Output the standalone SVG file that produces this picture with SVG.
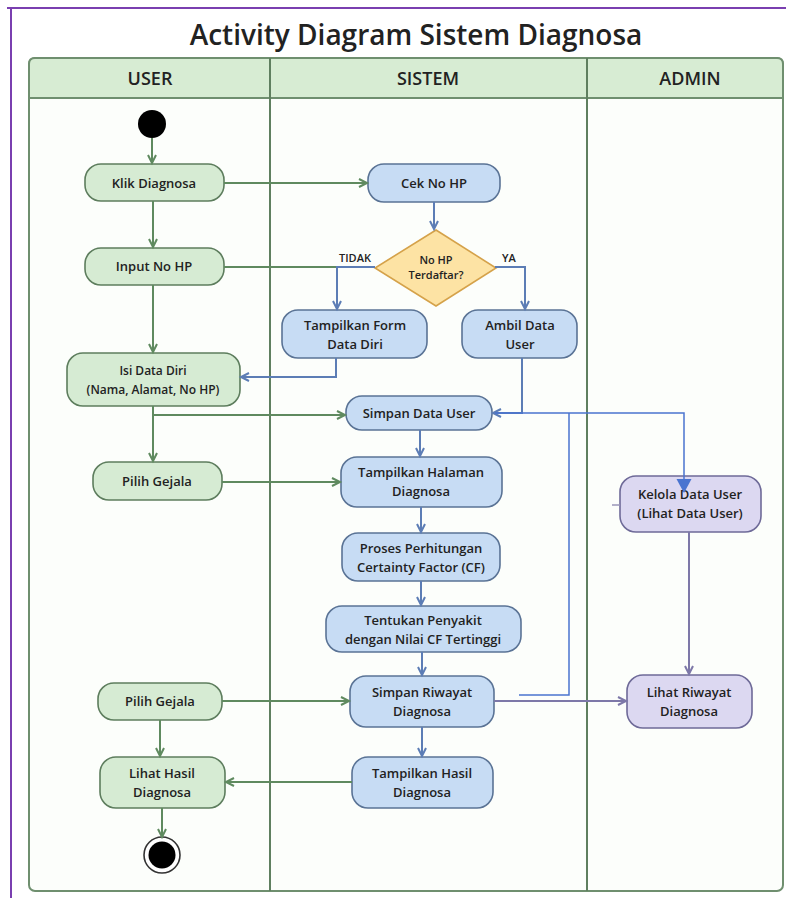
<svg xmlns="http://www.w3.org/2000/svg" width="786" height="898" viewBox="0 0 786 898">
<style>
  text { font-family: "Open Sans", "Noto Sans", "Liberation Sans", sans-serif; fill: #222; font-weight: 600; text-anchor: middle; }
  .t { font-size: 13px; }
  .hd { font-size: 18px; }
  .lbl { font-size: 11px; }
  .g { fill: #d6ebd3; stroke: #5d7d5d; stroke-width: 1.6; }
  .b { fill: #c7dcf4; stroke: #5a7395; stroke-width: 1.6; }
  .p { fill: #dcd8f1; stroke: #6e6a98; stroke-width: 1.6; }
  .eg { fill: none; stroke: #5f8a5f; stroke-width: 2; }
  .eb { fill: none; stroke: #5c7db5; stroke-width: 2; }
  .ep { fill: none; stroke: #7d78a8; stroke-width: 2; }
  .ann { fill: none; stroke: #4a74d0; stroke-width: 1.5; }
</style>
<defs>
  <marker id="ag" markerWidth="12" markerHeight="12" refX="9" refY="5" orient="auto" markerUnits="userSpaceOnUse">
    <path d="M1,1 L9,5 L1,9" fill="none" stroke="#5f8a5f" stroke-width="2"/>
  </marker>
  <marker id="ab" markerWidth="12" markerHeight="12" refX="9" refY="5" orient="auto" markerUnits="userSpaceOnUse">
    <path d="M1,1 L9,5 L1,9" fill="none" stroke="#5c7db5" stroke-width="2"/>
  </marker>
  <marker id="ap" markerWidth="12" markerHeight="12" refX="9" refY="5" orient="auto" markerUnits="userSpaceOnUse">
    <path d="M1,1 L9,5 L1,9" fill="none" stroke="#7d78a8" stroke-width="2"/>
  </marker>
  <marker id="tri" markerWidth="16" markerHeight="16" refX="13" refY="7.5" orient="auto" markerUnits="userSpaceOnUse">
    <path d="M0,0 L14,7.5 L0,15 Z" fill="#4a74d0"/>
  </marker>
</defs>
<rect x="0" y="0" width="786" height="898" fill="#ffffff"/>
<line x1="7" y1="8" x2="786" y2="8" stroke="#7a3fb0" stroke-width="2"/>
<line x1="11" y1="8" x2="11" y2="898" stroke="#7a3fb0" stroke-width="2"/>

<text x="416" y="45" style="font-size:28px">Activity Diagram Sistem Diagnosa</text>

<g id="lanes">
  <rect x="29" y="58" width="754" height="833" rx="6" fill="#fcfefb" stroke="#6f8f6f" stroke-width="2"/>
  <path d="M29,98 V64 Q29,58 35,58 H777 Q783,58 783,64 V98 Z" fill="#d7ecd3" stroke="#6f8f6f" stroke-width="2"/>
  <line x1="270" y1="58" x2="270" y2="891" stroke="#5f7f5f" stroke-width="2"/>
  <line x1="587" y1="58" x2="587" y2="891" stroke="#5f7f5f" stroke-width="2"/>
  <text class="hd" x="150" y="85">USER</text>
  <text class="hd" x="428" y="85">SISTEM</text>
  <text class="hd" x="690" y="85">ADMIN</text>
</g>

<!-- nodes -->
<g id="start"><circle cx="152" cy="124" r="14" fill="#000"/></g>
<g id="klik"><rect class="g" x="85" y="164" width="139" height="37" rx="16"/><text class="t" x="154" y="188">Klik Diagnosa</text></g>
<g id="input"><rect class="g" x="85" y="248" width="139" height="37" rx="16"/><text class="t" x="154" y="271">Input No HP</text></g>
<g id="isi"><rect class="g" x="67" y="353" width="173" height="53" rx="16"/><text class="t" x="153" y="375" style="font-size:12px">Isi Data Diri</text><text class="t" x="153" y="394" style="font-size:12px">(Nama, Alamat, No HP)</text></g>
<g id="pilih1"><rect class="g" x="93" y="462" width="129" height="38" rx="16"/><text class="t" x="157" y="486">Pilih Gejala</text></g>
<g id="pilih2"><rect class="g" x="98" y="683" width="124" height="37" rx="16"/><text class="t" x="160" y="706">Pilih Gejala</text></g>
<g id="lihathasil"><rect class="g" x="100" y="757" width="125" height="51" rx="16"/><text class="t" x="162" y="778">Lihat Hasil</text><text class="t" x="162" y="797">Diagnosa</text></g>
<g id="end"><circle cx="162" cy="855" r="18" fill="#fff" stroke="#333" stroke-width="1.6"/><circle cx="162" cy="855" r="13.5" fill="#000"/></g>

<g id="cek"><rect class="b" x="368" y="164" width="132" height="38" rx="16"/><text class="t" x="434" y="188">Cek No HP</text></g>
<g id="decision"><polygon points="436,230 496,268 436,306 375,268" fill="#fde3a4" stroke="#d5a24a" stroke-width="1.6"/><text class="lbl" x="436" y="264">No HP</text><text class="lbl" x="436" y="279">Terdaftar?</text></g>
<text class="lbl" x="355" y="262">TIDAK</text>
<text class="lbl" x="509" y="262">YA</text>
<g id="form"><rect class="b" x="282" y="310" width="145" height="48" rx="16"/><text class="t" x="355" y="330">Tampilkan Form</text><text class="t" x="355" y="349">Data Diri</text></g>
<g id="ambil"><rect class="b" x="462" y="310" width="115" height="48" rx="16"/><text class="t" x="520" y="330">Ambil Data</text><text class="t" x="520" y="349">User</text></g>
<g id="simpanuser"><rect class="b" x="346" y="396" width="146" height="34" rx="16"/><text class="t" x="419" y="418">Simpan Data User</text></g>
<g id="halaman"><rect class="b" x="341" y="457" width="161" height="50" rx="16"/><text class="t" x="421" y="477">Tampilkan Halaman</text><text class="t" x="421" y="496">Diagnosa</text></g>
<g id="proses"><rect class="b" x="342" y="533" width="158" height="48" rx="16"/><text class="t" x="421" y="553">Proses Perhitungan</text><text class="t" x="421" y="572">Certainty Factor (CF)</text></g>
<g id="tentukan"><rect class="b" x="326" y="606" width="195" height="46" rx="16"/><text class="t" x="423" y="625">Tentukan Penyakit</text><text class="t" x="423" y="644">dengan Nilai CF Tertinggi</text></g>
<g id="simpanriwayat"><rect class="b" x="350" y="676" width="144" height="51" rx="16"/><text class="t" x="422" y="697">Simpan Riwayat</text><text class="t" x="422" y="716">Diagnosa</text></g>
<g id="tampilhasil"><rect class="b" x="352" y="757" width="141" height="51" rx="16"/><text class="t" x="422" y="778">Tampilkan Hasil</text><text class="t" x="422" y="797">Diagnosa</text></g>

<g id="kelola"><rect class="p" x="620" y="476" width="141" height="56" rx="16"/><text class="t" x="690" y="499">Kelola Data User</text><text class="t" x="690" y="518">(Lihat Data User)</text></g>
<g id="lihatriwayat"><rect class="p" x="627" y="675" width="125" height="53" rx="16"/><text class="t" x="689" y="697">Lihat Riwayat</text><text class="t" x="689" y="716">Diagnosa</text></g>

<!-- connectors -->
<g id="connectors">
  <line class="eg" x1="152" y1="138" x2="152" y2="163" marker-end="url(#ag)"/>
  <line class="eg" x1="224" y1="183" x2="367" y2="183" marker-end="url(#ag)"/>
  <line class="eg" x1="153" y1="201" x2="153" y2="247" marker-end="url(#ag)"/>
  <line class="eb" x1="434" y1="202" x2="434" y2="229" marker-end="url(#ab)"/>
  <line class="eg" x1="224" y1="267" x2="337" y2="267"/>
  <path class="eb" d="M375,267 H337 V309" marker-end="url(#ab)"/>
  <path class="eb" d="M495,267 H525 V309" marker-end="url(#ab)"/>
  <line class="eg" x1="153" y1="285" x2="153" y2="352" marker-end="url(#ag)"/>
  <path class="eb" d="M336,358 V377 H241" marker-end="url(#ab)"/>
  <path class="eb" d="M522,358 V413 H493" marker-end="url(#ab)"/>
  <line class="eg" x1="153" y1="406" x2="153" y2="461" marker-end="url(#ag)"/>
  <path class="eg" d="M153,415 H345" marker-end="url(#ag)"/>
  <line class="eb" x1="420" y1="430" x2="420" y2="456" marker-end="url(#ab)"/>
  <line class="eg" x1="222" y1="482" x2="340" y2="482" marker-end="url(#ag)"/>
  <line class="eb" x1="421" y1="507" x2="421" y2="532" marker-end="url(#ab)"/>
  <line class="eb" x1="421" y1="581" x2="421" y2="605" marker-end="url(#ab)"/>
  <line class="eb" x1="422" y1="652" x2="422" y2="675" marker-end="url(#ab)"/>
  <line class="eg" x1="222" y1="701" x2="349" y2="701" marker-end="url(#ag)"/>
  <line class="ep" x1="494" y1="701" x2="626" y2="701" marker-end="url(#ap)"/>
  <line class="ep" x1="689" y1="532" x2="689" y2="674" marker-end="url(#ap)"/>
  <line x1="612" y1="505" x2="620" y2="505" stroke="#9a96b8" stroke-width="1.5"/>
  <line class="eb" x1="422" y1="727" x2="422" y2="756" marker-end="url(#ab)"/>
  <line class="eg" x1="352" y1="782" x2="226" y2="782" marker-end="url(#ag)"/>
  <line class="eg" x1="160" y1="720" x2="160" y2="756" marker-end="url(#ag)"/>
  <line class="eg" x1="162" y1="808" x2="162" y2="837" marker-end="url(#ag)"/>
  <path class="ann" d="M495,413 H684 V492" marker-end="url(#tri)"/>
  <path class="ann" d="M569,413 V695 H519"/>
</g>
</svg>
